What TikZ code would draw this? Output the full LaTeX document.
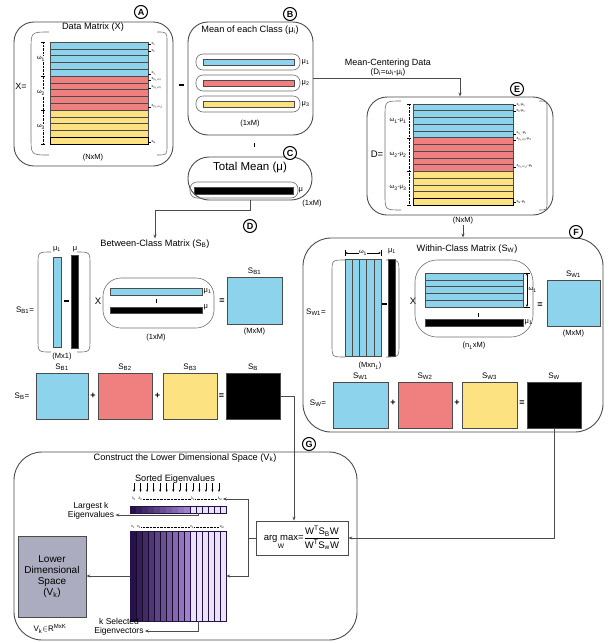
\documentclass[tikz,border=0pt]{standalone}
\usepackage{amsmath}
\usepackage{fontspec}
\setmainfont{Liberation Sans}
\usepackage{xcolor}
\definecolor{rowblue}{RGB}{141,211,236}
\definecolor{rowred}{RGB}{240,128,128}
\definecolor{rowyellow}{RGB}{252,226,128}
\definecolor{purpdark}{RGB}{38,18,74}
\definecolor{purpmid}{RGB}{160,130,205}
\definecolor{purplight}{RGB}{236,226,246}
\definecolor{lowgray}{RGB}{172,172,192}
\definecolor{edge}{RGB}{75,75,75}
\usepackage{tikz}
\usetikzlibrary{arrows.meta,calc,positioning}
\newcommand{\lcurve}[4]{%
	\draw[paren] ({#1+#4},#2) .. controls (#1,#2) and (#1,#2) .. (#1,{#2+#4})
		-- (#1,{#3-#4}) .. controls (#1,#3) and (#1,#3) .. ({#1+#4},#3);}
\newcommand{\rcurve}[4]{%
	\draw[paren] ({#1-#4},#2) .. controls (#1,#2) and (#1,#2) .. (#1,{#2+#4})
		-- (#1,{#3-#4}) .. controls (#1,#3) and (#1,#3) .. ({#1-#4},#3);}
\newcommand{\minusbar}{\rule[2.2pt]{5pt}{1.7pt}}
\tikzset{
	panel/.style={draw=edge, line width=0.9pt, rounded corners=20pt, inner sep=0pt},
	paren/.style={draw=edge!80, line width=0.6pt},
	badge/.style={circle, draw=black, line width=1pt, fill=white, inner sep=0pt,
		minimum size=13pt, font=\bfseries\fontsize{9}{9}\selectfont},
	title/.style={inner sep=1pt, font=\fontsize{9.2}{10}\selectfont},
	lbl/.style={inner sep=1pt, font=\fontsize{8}{8.5}\selectfont},
	dimlbl/.style={inner sep=0.5pt, font=\fontsize{7.5}{8}\selectfont},
	tinylbl/.style={inner sep=0.3pt, font=\fontsize{3.6}{3.8}\selectfont},
	op/.style={inner sep=0pt, font=\bfseries\fontsize{9}{9}\selectfont},
	row/.style={draw=edge, line width=0.5pt},
	sq/.style={draw=edge, line width=0.5pt, inner sep=0pt},
	link/.style={draw=edge, line width=0.7pt},
	linkarrow/.style={link, -{Stealth[length=4pt,width=3pt]}},
}
\begin{document}
\begin{tikzpicture}[x=1pt,y=-1pt]
	\useasboundingbox (0,0) rectangle (609,643);

	% (A) data matrix
	\node[panel, minimum width=159pt, minimum height=144pt] (panA) at (93.5,94) {};
	\lcurve{31}{32}{155}{18}
	\rcurve{167}{32}{155}{10}
	\node[badge] (bA) at (141,12) {A};
	\node[title] (titA) at (93,27) {Data Matrix (X)};
	\node[lbl, font=\fontsize{9}{9}\selectfont] (xeq) at (21,86) {X=};
	\foreach \i in {0,...,4} {
		\draw[row, fill=rowblue] (50,{42+6.8*\i}) rectangle (148,{48.8+6.8*\i});
		\draw[row, fill=rowred] (50,{76+6.8*\i}) rectangle (148,{82.8+6.8*\i});
		\draw[row, fill=rowyellow] (50,{110+6.8*\i}) rectangle (148,{116.8+6.8*\i});
	}
	\draw[line width=1pt] (50,137.2) rectangle (148,144);
	\draw[densely dotted] (43,42) -- (43,144);
	\foreach \y in {42,76,110,144} \draw (41,\y) -- (45,\y);
	\foreach \y/\k in {59/1,93/2,127/3}
		\node[dimlbl, fill=white, font=\fontsize{6}{6}\selectfont] at (41,\y) {ω\textsubscript{\k}};
	\foreach \y/\t in {44/x\textsubscript{1}, 51/x\textsubscript{2},
			74/x\textsubscript{n\textsubscript{1}}, 80/x\textsubscript{(n\textsubscript{1}+1)},
			88/x\textsubscript{(n\textsubscript{1}+2)}, 107/x\textsubscript{(n\textsubscript{1}+n\textsubscript{2})},
			142/x\textsubscript{N}} {
		\draw[line width=0.8pt] (148,\y) -- (151,\y);
		\node[tinylbl, anchor=west] at (151,\y) {\t};
	}
	\node[dimlbl] (dimA) at (93,158) {(NxM)};
	\node[op] (minAB) at (181,86) {\minusbar};

	% (B) class means
	\node[panel, minimum width=125pt, minimum height=113pt] (panB) at (250.5,78.5) {};
	\node[badge] (bB) at (290,14) {B};
	\node[title] (titB) at (250,30) {Mean of each Class (μ\textsubscript{i})};
	\foreach \y/\c/\k in {62/rowblue/1, 83/rowred/2, 104/rowyellow/3} {
		\draw[paren, rounded corners=7pt] (196,{\y-8}) rectangle (300,{\y+8});
		\draw[sq, fill=\c] (203,{\y-3}) rectangle (294,{\y+3});
		\node[dimlbl, anchor=west] at (301,\y) {μ\textsubscript{\k}};
	}
	\node[dimlbl] (dimB) at (250,124) {(1xM)};
	\draw[line width=0.8pt] (254,143) -- (254,147);

	% (E) mean-centred data
	\node[panel, minimum width=186pt, minimum height=118pt] (panE) at (460,156) {};
	\lcurve{385}{101}{210}{16}
	\rcurve{547}{101}{210}{8}
	\node[badge] (bE) at (517,89) {E};
	\node[lbl, font=\fontsize{9.5}{9.5}\selectfont] (deq) at (377,154) {D=};
	\foreach \i in {0,...,4} {
		\draw[row, fill=rowblue] (413,{104+6.73*\i}) rectangle (513,{110.73+6.73*\i});
		\draw[row, fill=rowred] (413,{137.67+6.73*\i}) rectangle (513,{144.4+6.73*\i});
		\draw[row, fill=rowyellow] (413,{171.33+6.73*\i}) rectangle (513,{178.06+6.73*\i});
	}
	\draw[line width=1pt] (413,198.3) rectangle (513,205);
	\draw[densely dotted] (409,104) -- (409,205);
	\foreach \y in {104,137.7,171.3,205} \draw (407,\y) -- (411,\y);
	\foreach \y/\k in {121/1,155/2,188/3}
		\node[dimlbl, fill=white, font=\fontsize{6}{6}\selectfont] at (398,\y) {ω\textsubscript{\k}-μ\textsubscript{\k}};
	\foreach \y/\t in {105/x\textsubscript{1}-μ\textsubscript{1}, 111/x\textsubscript{2}-μ\textsubscript{1},
			134/x\textsubscript{n\textsubscript{1}}-μ\textsubscript{1},
			140/x\textsubscript{(n\textsubscript{1}+1)}-μ\textsubscript{2},
			167/x\textsubscript{(n\textsubscript{1}+n\textsubscript{2})}-μ\textsubscript{2},
			202/x\textsubscript{N}-μ\textsubscript{3}} {
		\draw[line width=0.8pt] (513,\y) -- (516,\y);
		\node[tinylbl, anchor=west] at (516,\y) {\t};
	}
	\node[dimlbl] (dimE) at (463,221) {(NxM)};
	\node[lbl, font=\fontsize{9}{9}\selectfont] (mcen) at (388,63) {Mean-Centering Data};
	\node[lbl] (mcenf) at (388,72) {(D\textsubscript{i}=ω\textsubscript{i}-μ\textsubscript{i})};

	% (C) total mean
	\node[panel, rounded corners=21pt, minimum width=124pt, minimum height=43pt] (panC) at (250,178.5) {};
	\node[badge] (bC) at (290,153) {C};
	\node[title, font=\fontsize{11.5}{12}\selectfont] (titC) at (250,168) {Total Mean (μ)};
	\draw[paren, rounded corners=7pt] (190,182) rectangle (298,198);
	\draw[sq, fill=black] (194,187) rectangle (293,194);
	\node[dimlbl, anchor=west] at (298,190) {μ};
	\node[dimlbl] (dimC) at (312,204) {(1xM)};

	% (D) between-class matrix
	\node[badge] (bD) at (250,226) {D};
	\node[title] (titD) at (155,244) {Between-Class Matrix (S\textsubscript{B})};
	\node[lbl] (sb1eq) at (25,310) {S\textsubscript{B1}=};
	\lcurve{38}{252}{352}{13}
	\rcurve{90}{252}{352}{13}
	\draw[sq, fill=rowblue] (53,257) rectangle (61,347);
	\draw[sq, fill=black] (71,255) rectangle (78,348);
	\node[op] at (66,302) {\minusbar};
	\node[dimlbl] at (57,249) {μ\textsubscript{1}};
	\node[dimlbl] at (75,249) {μ};
	\node[dimlbl] at (62,357) {(Mx1)};
	\node[lbl, font=\fontsize{9.5}{9.5}\selectfont] at (98,301) {X};
	\draw[paren, rounded corners=18pt] (103,278) rectangle (214,328);
	\draw[sq, fill=rowblue] (110,288) rectangle (202,295);
	\draw[sq, fill=black] (110,307) rectangle (202,313);
	\draw[line width=0.9pt] (156,299) -- (156,303);
	\node[dimlbl, anchor=west] at (203,291) {μ\textsubscript{1}};
	\node[dimlbl, anchor=west] at (203,307) {μ};
	\node[op] at (222,301) {=};
	\node[dimlbl] at (156,338) {(1xM)};
	\node[sq, fill=rowblue, minimum width=55pt, minimum height=47pt] (sqSB1) at (254.5,300.5) {};
	\node[lbl, above=1pt of sqSB1] {S\textsubscript{B1}};
	\node[dimlbl, below=3pt of sqSB1] {(MxM)};
	\node[lbl] (sbeq) at (22,396) {S\textsubscript{B}=};
	\node[sq, fill=rowblue, minimum width=52pt, minimum height=46pt] (sqB1) at (62,396) {};
	\node[sq, fill=rowred, minimum width=54pt, minimum height=46pt] (sqB2) at (125,396) {};
	\node[sq, fill=rowyellow, minimum width=54pt, minimum height=46pt] (sqB3) at (190,396) {};
	\node[sq, fill=black, minimum width=54pt, minimum height=46pt] (sqB) at (253,396) {};
	\node[lbl, above=1pt of sqB1] {S\textsubscript{B1}};
	\node[lbl, above=1pt of sqB2] {S\textsubscript{B2}};
	\node[lbl, above=1pt of sqB3] {S\textsubscript{B3}};
	\node[lbl, above=1pt of sqB] {S\textsubscript{B}};
	\node[op] at (93,396) {+};
	\node[op] at (157.5,396) {+};
	\node[op] at (221.5,396) {=};

	% (F) within-class matrix
	\node[panel, rounded corners=28pt, minimum width=300pt, minimum height=194pt] (panF) at (453,335) {};
	\node[badge] (bF) at (576,232) {F};
	\node[title] (titF) at (467,249) {Within-Class Matrix (S\textsubscript{W})};
	\node[lbl] (sw1eq) at (316,312) {S\textsubscript{W1}=};
	\lcurve{332}{260}{357}{13}
	\rcurve{399}{260}{357}{13}
	\draw[sq, fill=rowblue] (345,259) rectangle (381,356);
	\foreach \x in {352.2,359.4,366.6,373.8} \draw[row] (\x,259) -- (\x,356);
	\draw[<->, >={Stealth[length=2.5pt,width=2pt]}, line width=0.4pt] (345,253) -- (381,253);
	\draw[line width=0.4pt] (345,250) -- (345,256) (381,250) -- (381,256);
	\node[dimlbl, fill=white, font=\fontsize{6}{6}\selectfont] at (363,253) {ω\textsubscript{1}};
	\draw[sq, fill=black] (388,259) rectangle (395,356);
	\node[dimlbl] at (392,251) {μ\textsubscript{1}};
	\node[op] at (384,305) {\minusbar};
	\node[dimlbl] at (370,366) {(Mxn\textsubscript{1})};
	\node[lbl, font=\fontsize{9.5}{9.5}\selectfont] at (413,301) {X};
	\draw[paren, rounded corners=22pt] (415,260) rectangle (533,337);
	\foreach \i in {0,...,4}
		\draw[row, fill=rowblue] (425,{273+6.8*\i}) rectangle (523,{279.8+6.8*\i});
	\draw[<->, >={Stealth[length=2.5pt,width=2pt]}, line width=0.4pt] (527,273) -- (527,307);
	\draw[line width=0.4pt] (524,273) -- (530,273) (524,307) -- (530,307);
	\node[dimlbl, anchor=west, font=\fontsize{6}{6}\selectfont] at (528,290) {ω\textsubscript{1}};
	\draw[line width=0.9pt] (478,313) -- (478,317);
	\draw[sq, fill=black] (425,319) rectangle (523,326);
	\node[dimlbl, anchor=west] at (524,322) {μ\textsubscript{1}};
	\node[dimlbl] at (474,346) {(n\textsubscript{1}xM)};
	\node[op] at (540,305) {=};
	\node[sq, fill=rowblue, minimum width=53pt, minimum height=46pt] (sqSW1) at (573.5,303) {};
	\node[lbl, above=1pt of sqSW1] {S\textsubscript{W1}};
	\node[dimlbl, below=3pt of sqSW1] {(MxM)};
	\node[lbl] (sweq) at (318,403) {S\textsubscript{W}=};
	\node[sq, fill=rowblue, minimum width=55pt, minimum height=46pt] (sqW1) at (360.5,405) {};
	\node[sq, fill=rowred, minimum width=54pt, minimum height=46pt] (sqW2) at (425,405) {};
	\node[sq, fill=rowyellow, minimum width=55pt, minimum height=46pt] (sqW3) at (489.5,405) {};
	\node[sq, fill=black, minimum width=54pt, minimum height=46pt] (sqW) at (554,405) {};
	\node[lbl, above=1pt of sqW1] {S\textsubscript{W1}};
	\node[lbl, above=1pt of sqW2] {S\textsubscript{W2}};
	\node[lbl, above=1pt of sqW3] {S\textsubscript{W3}};
	\node[lbl, above=1pt of sqW] {S\textsubscript{W}};
	\node[op] at (393,403) {+};
	\node[op] at (457,403) {+};
	\node[op] at (522,403) {=};

	% (G) lower dimensional space
	\node[panel, rounded corners=28pt, minimum width=343pt, minimum height=188pt] (panG) at (185.5,546) {};
	\node[badge] (bG) at (309,444) {G};
	\node[title] (titG) at (185,458) {Construct the Lower Dimensional Space (V\textsubscript{k})};
	\node[draw=edge, line width=0.7pt, fill=white, inner sep=1pt, minimum width=92pt,
		minimum height=34pt, font=\fontsize{9.5}{10}\selectfont] (argmax) at (302,538)
		{$\underset{\text{W}}{\text{arg max}}\text{=}\dfrac{\text{W\textsuperscript{T}S\textsubscript{B}W}}{\text{W\textsuperscript{T}S\textsubscript{w}W}}$};
	\node[title] (sorted) at (175,479) {Sorted Eigenvalues};
	\foreach \i in {0,...,13}
		\draw[-{Stealth[length=2.5pt,width=2pt]}, line width=0.5pt] ({134+6.54*\i},483) -- ({134+6.54*\i},492);
	\node[tinylbl] (lam1) at (134,499) {λ\textsubscript{1}};
	\node[tinylbl] (lam2) at (140.5,499) {λ\textsubscript{2}};
	\node[tinylbl] (lamk) at (193,499) {λ\textsubscript{k}};
	\node[tinylbl] (lamM) at (220,499) {λ\textsubscript{M}};
	\draw[densely dotted, line width=0.4pt] (lam2.east) -- (lamk.west) (lamk.east) -- (lamM.west);
	\foreach \i in {0,...,15} {
		\ifnum\i<10
			\pgfmathtruncatemacro{\p}{100-\i*11}
			\fill[purpdark!\p!purpmid] ({130+6*\i},506) rectangle ({136+6*\i},513);
		\else
			\draw[purpdark, line width=0.4pt, fill=purplight] ({130+6*\i},506) rectangle ({136+6*\i},513);
		\fi
	}
	\draw[purpdark, line width=0.4pt] (130,506) rectangle (226,513);
	\coordinate (stripk) at (198,513);
	\node[lbl, align=center, font=\fontsize{8.5}{8.5}\selectfont] (lgk) at (91,511) {Largest k\\Eigenvalues};
	\node[tinylbl] (v1) at (133,527) {v\textsubscript{1}};
	\node[tinylbl] (v2) at (139,527) {v\textsubscript{2}};
	\node[tinylbl] (vk) at (192,527) {v\textsubscript{k}};
	\node[tinylbl] (vM) at (222,527) {v\textsubscript{M}};
	\draw[densely dotted, line width=0.4pt] (v2.east) -- (vk.west) (vk.east) -- (vM.west);
	\foreach \i in {0,...,15} {
		\ifnum\i<10
			\pgfmathtruncatemacro{\p}{100-\i*11}
			\fill[purpdark!\p!purpmid] ({130+6*\i},531) rectangle ({136+6*\i},621);
		\else
			\draw[purpdark, line width=0.5pt, fill=purplight] ({130+6*\i},531) rectangle ({136+6*\i},621);
		\fi
	}
	\foreach \i in {1,...,9} \draw[purpdark!60!black, line width=0.3pt] ({130+6*\i},531) -- ({130+6*\i},621);
	\draw[purpdark, line width=0.5pt] (130,531) rectangle (226,621);
	\node[inner sep=0pt, minimum width=96pt, minimum height=90pt] (evmat) at (178,576) {};
	\coordinate (evk) at (198,621);
	\node[lbl, align=center, font=\fontsize{8.5}{8.5}\selectfont] (ksel) at (119,627) {k Selected\\Eigenvectors};
	\node[draw=edge, line width=0.6pt, fill=lowgray, minimum width=68pt, minimum height=81pt,
		align=center, font=\fontsize{10}{11}\selectfont] (lowbox) at (52,576.5)
		{Lower\\Dimensional\\Space\\(V\textsubscript{k})};
	\node[lbl] (vkin) at (50,629) {V\textsubscript{k}$\in$R\textsuperscript{MxK}};

	% connectors
	\draw[linkarrow] (panB.east) -| (panE.north);
	\draw[linkarrow] (dimE.south) -- (dimE.south |- panF.north);
	\draw[linkarrow] (panC.south) -- ++(0,10) -| (titD.north);
	\draw[linkarrow] (sqB.east) -| ([xshift=-8pt]argmax.north);
	\draw[linkarrow] (sqW.south) |- (argmax.east);
	\draw[linkarrow] (argmax.west) -- ++(-7,0) |- (lamM.east);
	\draw[linkarrow] (argmax.west) -- ++(-7,0) |- (evmat.east);
	\draw[linkarrow] (stripk) |- ([yshift=-4pt]lgk.east);
	\draw[linkarrow] (evk) |- ([yshift=-4pt]ksel.east);
	\draw[linkarrow] (evmat.west) -- (lowbox.east |- evmat.west);
\end{tikzpicture}
\end{document}
